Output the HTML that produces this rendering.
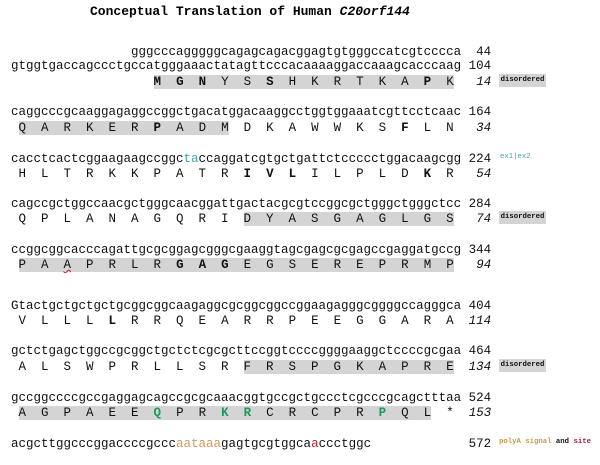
<!DOCTYPE html>
<html>
<head>
<meta charset="utf-8">
<style>
  html, body { margin:0; padding:0; background:#ffffff; }
  body { width:600px; height:465px; position:relative; overflow:hidden; }
  .ln { position:absolute; left:11px; white-space:pre; font-family:"Liberation Mono", monospace; font-size:12.5px; line-height:14px; color:#111; }
  .title { position:absolute; left:90px; top:4px; white-space:pre; font-family:"Liberation Mono", monospace; font-size:13px; line-height:15px; font-weight:bold; color:#000; }
  .sh { background:#d4d4d4; }
  .g { color:#1e9a5c; font-weight:bold; }
  .t { color:#3fa6a6; }
  .o { color:#d29a58; }
  .r { color:#c02828; }
  .lab { position:absolute; white-space:pre; font-family:"Liberation Mono", monospace; font-size:7.3px; line-height:13px; font-weight:bold; color:#111; }
  .dis { left:499px; width:47px; height:13px; background:#d4d4d4; text-align:center; }
  .sq { text-decoration: underline wavy #c02020; text-decoration-thickness:1px; }
</style>
</head>
<body>
<div class="title">Conceptual Translation of Human <i>C20orf144</i></div>

<div class="ln" style="top:45px">                gggcccagggggcagagcagacggagtgtgggccatcgtcccca  44</div>
<div class="ln" style="top:59px">gtggtgaccagccctgccatgggaaactatagttcccacaaaaggaccaaagcacccaag 104</div>
<div class="ln" style="top:75px">                   <span class="sh"><b>M</b>  <b>G</b>  <b>N</b>  Y  S  <b>S</b>  H  K  R  T  K  A  <b>P</b>  K</span>   <i>14</i></div>
<div class="lab dis" style="top:74px">disordered</div>

<div class="ln" style="top:105px">caggcccgcaaggagaggccggctgacatggacaaggcctggtggaaatcgttcctcaac 164</div>
<div class="ln" style="top:121px"> <span class="sh">Q  A  R  K  E  R  <b>P</b>  A  D  M</span>  D  K  A  W  W  K  S  <b>F</b>  L  N   <i>34</i></div>

<div class="ln" style="top:152px">cacctcactcggaagaagccggc<span class="t">ta</span>ccaggatcgtgctgattctccccctggacaagcgg 224</div>
<div class="lab" style="left:500px; top:151px; font-weight:normal; color:#3fa6a6;">ex1|ex2</div>
<div class="ln" style="top:167px"> H  L  T  R  K  K  P  A  T  R  <b>I</b>  <b>V</b>  <b>L</b>  I  L  P  L  D  <b>K</b>  R   <i>54</i></div>

<div class="ln" style="top:197px">cagccgctggccaacgctgggcaacggattgactacgcgtccggcgctgggctgggctcc 284</div>
<div class="ln" style="top:212px"> Q  P  L  A  N  A  G  Q  R  I  <span class="sh">D  Y  A  S  G  A  G  L  G  S</span>   <i>74</i></div>
<div class="lab dis" style="top:211px">disordered</div>

<div class="ln" style="top:243px">ccggcggcacccagattgcgcggagcgggcgaaggtagcgagcgcgagccgaggatgccg 344</div>
<div class="ln" style="top:258px"> <span class="sh">P  A  <span class="sq">A</span>  P  R  L  R  <b>G</b>  <b>A</b>  <b>G</b>  E  G  S  E  R  E  P  R  M  P</span>   <i>94</i></div>

<div class="ln" style="top:299px">Gtactgctgctgctgcggcggcaagaggcgcggcggccggaagagggcggggccagggca 404</div>
<div class="ln" style="top:314px"> V  L  L  L  <b>L</b>  R  R  Q  E  A  R  R  P  E  E  G  G  A  R  A  <i>114</i></div>

<div class="ln" style="top:344px">gctctgagctggccgcggctgctctcgcgcttccggtccccggggaaggctccccgcgaa 464</div>
<div class="ln" style="top:360px"> A  L  S  W  P  R  L  L  S  R  <span class="sh">F  R  S  P  G  K  A  P  R  E</span>  <i>134</i></div>
<div class="lab dis" style="top:359px">disordered</div>

<div class="ln" style="top:391px">gccggccccgccgaggagcagccgcgcaaacggtgccgctgccctcgcccgcagctttaa 524</div>
<div class="ln" style="top:406px"> <span class="sh">A  G  P  A  E  E  <span class="g">Q</span>  P  R  <span class="g">K</span>  <span class="g">R</span>  C  R  C  P  R  <span class="g">P</span>  Q  L</span>  *  <i>153</i></div>

<div class="ln" style="top:437px">acgcttggcccggaccccgccc<span class="o">aataaa</span>gagtgcgtggca<span class="r">a</span>ccctggc             572</div>
<div class="lab" style="left:499px; top:436px;"><span style="color:#c89a40">polyA signal</span> and <span style="color:#a02040">site</span></div>
</body>
</html>
